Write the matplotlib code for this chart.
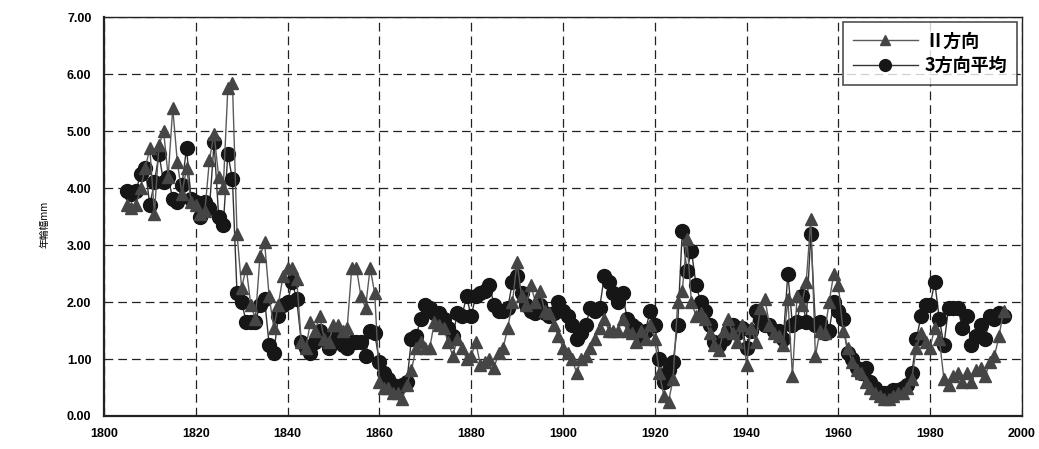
import numpy as np
import matplotlib as mpl
mpl.use('Agg')
import matplotlib.pyplot as plt

plt.rcParams['font.family'] = ['Noto Sans CJK JP', 'DejaVu Sans']

# years 1805 .. 1996
years = list(range(1805, 1997))

# II direction (triangles)
dir2 = [
    3.70, 3.65, 3.70, 4.00, 4.35, 4.70, 3.55, 4.75, 5.00, 4.20,   # 1805-1814
    5.40, 4.45, 3.90, 4.35, 3.75, 3.70, 3.55, 3.60, 4.50, 4.95,   # 1815-1824
    4.20, 4.00, 5.75, 5.85, 3.20, 2.25, 2.60, 1.95, 1.70, 2.80,   # 1825-1834
    3.05, 2.10, 1.55, 1.95, 2.45, 2.60, 2.60, 2.40, 1.30, 1.20,   # 1835-1844
    1.65, 1.50, 1.75, 1.35, 1.30, 1.60, 1.60, 1.50, 1.55, 2.60,   # 1845-1854
    2.60, 2.10, 1.90, 2.60, 2.15, 0.60, 0.50, 0.50, 0.40, 0.40,   # 1855-1864
    0.30, 0.55, 0.80, 1.20, 1.30, 1.20, 1.20, 1.65, 1.60, 1.55,   # 1865-1874
    1.30, 1.05, 1.35, 1.20, 1.00, 1.05, 1.30, 0.90, 0.95, 1.00,   # 1875-1884
    0.85, 1.10, 1.20, 1.55, 2.00, 2.70, 2.10, 1.95, 2.30, 2.00,   # 1885-1894
    2.20, 1.85, 1.80, 1.60, 1.40, 1.20, 1.10, 1.00, 0.75, 1.00,   # 1895-1904
    1.05, 1.20, 1.35, 1.55, 1.70, 1.50, 1.50, 1.50, 1.70, 1.50,   # 1905-1914
    1.45, 1.30, 1.50, 1.35, 1.60, 1.35, 0.75, 0.35, 0.25, 0.65,   # 1915-1924
    2.00, 2.20, 3.10, 2.00, 1.75, 1.80, 1.70, 1.45, 1.25, 1.15,   # 1925-1934
    1.50, 1.70, 1.45, 1.30, 1.60, 0.90, 1.55, 1.30, 1.90, 2.05,   # 1935-1944
    1.60, 1.45, 1.40, 1.25, 2.05, 0.70, 2.10, 1.95, 2.35, 3.45,   # 1945-1954
    1.05, 1.50, 1.45, 2.00, 2.50, 2.30, 1.50, 1.20, 0.95, 0.80,   # 1955-1964
    0.75, 0.60, 0.50, 0.40, 0.35, 0.30, 0.30, 0.35, 0.40, 0.40,   # 1965-1974
    0.50, 0.65, 1.20, 1.45, 1.30, 1.20, 1.55, 1.35, 0.65, 0.55,   # 1975-1984
    0.70, 0.75, 0.60, 0.75, 0.60, 0.80, 0.85, 0.70, 0.95, 1.05,   # 1985-1994
    1.40, 1.85,                                                   # 1995-1996
]

# mean of 3 directions (circles)
mean3 = [
    3.95, 3.90, 3.95, 4.25, 4.35, 3.70, 4.10, 4.60, 4.10, 4.20,   # 1805-1814
    3.80, 3.75, 4.05, 4.70, 3.80, 3.75, 3.50, 3.75, 3.65, 4.80,   # 1815-1824
    3.50, 3.35, 4.60, 4.15, 2.15, 2.00, 1.65, 1.65, 1.65, 1.95,   # 1825-1834
    2.05, 1.25, 1.10, 1.75, 1.95, 2.00, 2.35, 2.05, 1.30, 1.20,   # 1835-1844
    1.10, 1.30, 1.50, 1.40, 1.20, 1.30, 1.40, 1.25, 1.20, 1.30,   # 1845-1854
    1.30, 1.30, 1.05, 1.50, 1.45, 0.95, 0.75, 0.65, 0.55, 0.50,   # 1855-1864
    0.55, 0.60, 1.35, 1.40, 1.70, 1.95, 1.90, 1.80, 1.80, 1.70,   # 1865-1874
    1.55, 1.40, 1.80, 1.75, 2.10, 1.75, 2.10, 2.15, 2.20, 2.30,   # 1875-1884
    1.95, 1.85, 1.85, 1.90, 2.35, 2.45, 2.15, 1.95, 1.85, 1.80,   # 1885-1894
    1.95, 1.80, 1.75, 1.80, 2.00, 1.85, 1.75, 1.60, 1.35, 1.45,   # 1895-1904
    1.60, 1.90, 1.85, 1.90, 2.45, 2.35, 2.15, 2.00, 2.15, 1.70,   # 1905-1914
    1.60, 1.55, 1.40, 1.50, 1.85, 1.60, 1.00, 0.60, 0.80, 0.95,   # 1915-1924
    1.60, 3.25, 2.55, 2.90, 2.30, 2.00, 1.85, 1.60, 1.30, 1.25,   # 1925-1934
    1.35, 1.50, 1.60, 1.45, 1.55, 1.20, 1.50, 1.85, 1.70, 1.60,   # 1935-1944
    1.60, 1.50, 1.50, 1.35, 2.50, 1.60, 1.65, 2.10, 1.65, 3.20,   # 1945-1954
    1.60, 1.65, 1.45, 1.50, 2.00, 1.85, 1.70, 1.10, 1.00, 0.85,   # 1955-1964
    0.75, 0.85, 0.60, 0.50, 0.40, 0.40, 0.40, 0.45, 0.45, 0.50,   # 1965-1974
    0.55, 0.75, 1.35, 1.75, 1.95, 1.95, 2.35, 1.70, 1.25, 1.90,   # 1975-1984
    1.90, 1.90, 1.55, 1.75, 1.25, 1.40, 1.60, 1.35, 1.75, 1.70,   # 1985-1994
    1.80, 1.75,                                                   # 1995-1996
]

xticks = list(range(1800, 2001, 20))
yticks = [0, 1, 2, 3, 4, 5, 6, 7]

fig = plt.figure(figsize=(10.39, 4.49), dpi=100)
ax = fig.add_axes([0.100, 0.0735, 0.8836, 0.8885])

ax.plot(years, dir2, color='#5a5a5a', linewidth=1.0, marker='^',
        markersize=8, markerfacecolor='#454545', markeredgecolor='#454545',
        label='Ⅱ方向', zorder=3)
ax.plot(years, mean3, color='#333333', linewidth=1.0, marker='o',
        markersize=10, markerfacecolor='#161616', markeredgecolor='#161616',
        label='3方向平均', zorder=2)

ax.set_xlim(1800, 2000)
ax.set_ylim(0, 7)
ax.set_xticks(xticks)
ax.set_yticks(yticks)
ax.set_yticklabels(['%.2f' % v for v in yticks])
ax.grid(True, color='#222222', linestyle=(0, (7, 4)), linewidth=0.9)
ax.set_axisbelow(True)

for s in ax.spines.values():
    s.set_color('#222222')
    s.set_linewidth(1.0)
ax.spines['left'].set_linewidth(1.6)
ax.spines['bottom'].set_linewidth(1.6)

ax.tick_params(axis='both', length=0, labelsize=9, pad=9)
for lab in ax.get_xticklabels() + ax.get_yticklabels():
    lab.set_fontweight('bold')
    lab.set_family(['Liberation Sans Narrow', 'Liberation Sans', 'DejaVu Sans'])

fig.text(0.043, 0.5, '年輪幅mm', rotation=90, va='center', ha='center',
         fontsize=7, family=['Noto Sans CJK JP', 'DejaVu Sans'])

# legend box in the upper right corner
leg = ax.legend(loc='upper right', fontsize=13, frameon=True, fancybox=False,
                edgecolor='#222222', borderaxespad=0.25, handlelength=3.6,
                labelspacing=0.3, borderpad=0.55, markerscale=0.85,
                handletextpad=0.4)
leg.get_frame().set_linewidth(1.2)
for t in leg.get_texts():
    t.set_fontweight('bold')

fig.savefig('out.png', dpi=100)
